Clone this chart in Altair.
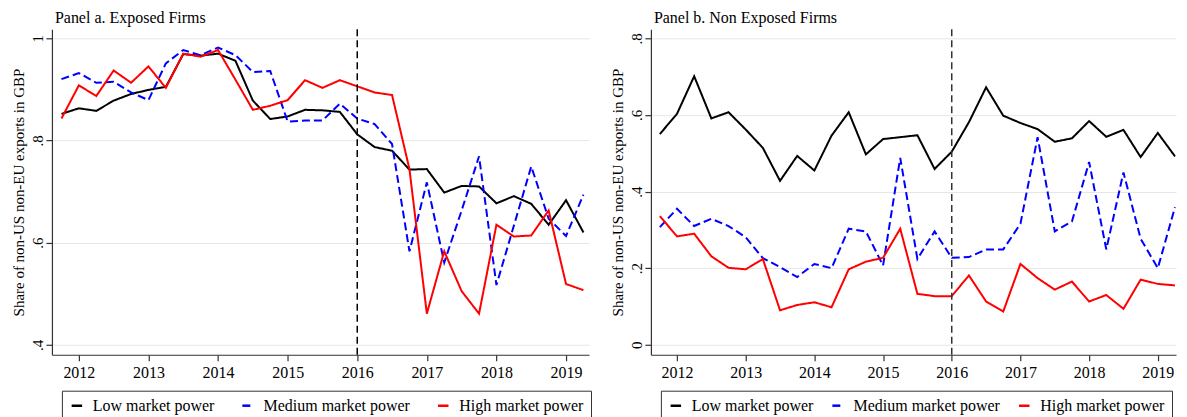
import altair as alt
import pandas as pd

quarters = ["2011q4",
            "2012q1", "2012q2", "2012q3", "2012q4",
            "2013q1", "2013q2", "2013q3", "2013q4",
            "2014q1", "2014q2", "2014q3", "2014q4",
            "2015q1", "2015q2", "2015q3", "2015q4",
            "2016q1", "2016q2", "2016q3", "2016q4",
            "2017q1", "2017q2", "2017q3", "2017q4",
            "2018q1", "2018q2", "2018q3", "2018q4",
            "2019q1", "2019q2"]

series_names = ["Low market power", "Medium market power", "High market power"]
series_colors = ["#000000", "#0000ff", "#ff0000"]
series_dashes = [[1, 0], [8, 4], [1, 0]]

# Panel a. Exposed firms
a_low = [0.852, 0.863, 0.858, 0.878, 0.891, 0.899, 0.905, 0.969, 0.966, 0.970, 0.956,
         0.878, 0.842, 0.847, 0.860, 0.859, 0.856, 0.812, 0.787, 0.780, 0.743, 0.744,
         0.698, 0.711, 0.710, 0.677, 0.691, 0.676, 0.635, 0.683, 0.620]
a_med = [0.920, 0.932, 0.913, 0.915, 0.894, 0.879, 0.951, 0.977, 0.967, 0.982, 0.967,
         0.934, 0.936, 0.837, 0.839, 0.839, 0.872, 0.843, 0.832, 0.793, 0.583, 0.718,
         0.561, 0.663, 0.769, 0.517, 0.633, 0.749, 0.647, 0.613, 0.694]
a_high = [0.843, 0.908, 0.887, 0.937, 0.913, 0.945, 0.903, 0.970, 0.964, 0.977, 0.919,
          0.860, 0.868, 0.879, 0.918, 0.903, 0.918, 0.906, 0.894, 0.889, 0.744, 0.461,
          0.583, 0.505, 0.461, 0.635, 0.612, 0.614, 0.663, 0.519, 0.507]

# Panel b. Non exposed firms
b_low = [0.550, 0.603, 0.701, 0.591, 0.607, 0.562, 0.514, 0.428, 0.493, 0.455, 0.546,
         0.607, 0.497, 0.537, 0.542, 0.547, 0.459, 0.504, 0.581, 0.672, 0.598, 0.579,
         0.563, 0.530, 0.539, 0.584, 0.543, 0.561, 0.490, 0.553, 0.492]
b_med = [0.307, 0.355, 0.310, 0.329, 0.310, 0.281, 0.226, 0.203, 0.177, 0.211, 0.200,
         0.303, 0.296, 0.207, 0.488, 0.224, 0.296, 0.227, 0.229, 0.249, 0.249, 0.316,
         0.542, 0.296, 0.322, 0.477, 0.249, 0.450, 0.277, 0.200, 0.359]
b_high = [0.336, 0.283, 0.290, 0.231, 0.201, 0.197, 0.224, 0.090, 0.104, 0.111, 0.098,
          0.197, 0.217, 0.227, 0.303, 0.133, 0.127, 0.127, 0.181, 0.113, 0.087, 0.211,
          0.174, 0.144, 0.165, 0.113, 0.130, 0.094, 0.170, 0.159, 0.155]

year_ticks = [2012, 2013, 2014, 2015, 2016, 2017, 2018, 2019]
event_year = [2016]
a_yticks = [0.4, 0.6, 0.8, 1.0]
b_yticks = [0.0, 0.2, 0.4, 0.6, 0.8]

FONT = "Liberation Serif"


def qpos(label):
    y, q = label.split("q")
    return int(y) + (int(q) - 1) / 4.0


def make_df(low, med, high):
    rows = []
    for name, vals in zip(series_names, [low, med, high]):
        for q, v in zip(quarters, vals):
            rows.append({"t": qpos(q), "v": v, "series": name})
    return pd.DataFrame(rows)


label_expr = ("datum.value == 1 ? '1' : (datum.value == 0 ? '0' : "
              "replace(format(datum.value, '.1f'), '0.', '.'))")


def panel(title, low, med, high, ydomain, yticks, xdomain, width, rule_color,
          legend_cp):
    df = make_df(low, med, high)
    lines = alt.Chart(df).mark_line(strokeWidth=2).encode(
        x=alt.X("t:Q",
                scale=alt.Scale(domain=xdomain, nice=False, zero=False),
                axis=alt.Axis(values=year_ticks, format="d", title=None,
                              grid=False, tickSize=6, labelPadding=4,
                              labelFontSize=16)),
        y=alt.Y("v:Q",
                scale=alt.Scale(domain=ydomain, nice=False, zero=False),
                axis=alt.Axis(values=yticks, labelExpr=label_expr,
                              title="Share of non-US non-EU exports in GBP",
                              grid=True, tickSize=6, labelAngle=-90,
                              labelPadding=0, labelFontSize=15,
                              titleFontSize=15, titlePadding=4)),
        color=alt.Color("series:N",
                        scale=alt.Scale(domain=series_names, range=series_colors),
                        legend=alt.Legend(title=None, orient="none",
                                          legendX=10, legendY=362,
                                          direction="horizontal",
                                          strokeColor="#333333",
                                          fillColor="white",
                                          padding=7,
                                          symbolType="stroke",
                                          symbolStrokeWidth=2.5,
                                          symbolSize=110,
                                          labelFontSize=16,
                                          labelFont=FONT,
                                          labelColor="black",
                                          labelLimit=300,
                                          labelOffset=8,
                                          columnPadding=legend_cp)),
        strokeDash=alt.StrokeDash("series:N",
                                  scale=alt.Scale(domain=series_names,
                                                  range=series_dashes),
                                  legend=None),
    )
    rule = alt.Chart(pd.DataFrame({"t": event_year})).mark_rule(
        color=rule_color, strokeWidth=1.5, strokeDash=[7, 4]
    ).encode(x="t:Q")
    return alt.layer(lines, rule).properties(
        width=width, height=326,
        title=alt.TitleParams(title, anchor="start", frame="group", dx=3,
                              offset=3, fontSize=16, font=FONT,
                              fontWeight="normal", color="black"),
    )


pa = panel("Panel a. Exposed Firms", a_low, a_med, a_high,
           [0.3805, 1.0176], a_yticks, [2011.613, 2019.33], 538, "#000000", 22)
pb = panel("Panel b. Non Exposed Firms", b_low, b_med, b_high,
           [-0.026, 0.8235], b_yticks, [2011.62, 2019.265], 526, "#333333", 13)

chart = alt.hconcat(pa, pb, spacing=62, bounds="flush",
                    padding={"left": 4, "top": 1, "right": 0, "bottom": 0}
                    ).resolve_scale(
    x="independent", y="independent", color="independent",
    strokeDash="independent"
).resolve_legend(color="independent").configure(
    font=FONT, background="white"
).configure_axis(
    domainColor="#333333", tickColor="#333333", gridColor="#e6e6e6",
    labelColor="black", titleColor="black", labelFont=FONT, titleFont=FONT,
    titleFontWeight="normal", domainWidth=1.2, tickWidth=1.2
).configure_view(stroke=None)

chart.save("out.html", embed_options={"renderer": "svg", "actions": False})
